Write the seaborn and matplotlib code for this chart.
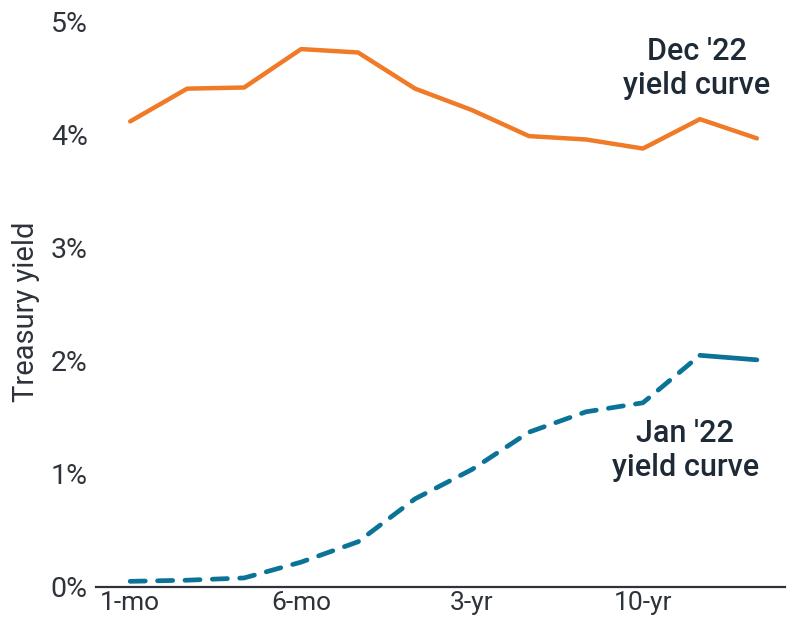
import seaborn as sns
import matplotlib.pyplot as plt
import pandas as pd

sns.set_style("white")
plt.rcParams['font.family'] = ['Roboto', 'DejaVu Sans']

maturities = ['1-mo', '2-mo', '3-mo', '6-mo', '1-yr', '2-yr',
              '3-yr', '5-yr', '7-yr', '10-yr', '20-yr', '30-yr']
dec22 = [4.12, 4.41, 4.42, 4.76, 4.73, 4.41, 4.22, 3.99, 3.96, 3.88, 4.14, 3.97]
jan22 = [0.05, 0.06, 0.08, 0.22, 0.40, 0.78, 1.04, 1.37, 1.55, 1.63, 2.05, 2.01]
shown_ticks = ['1-mo', '6-mo', '3-yr', '10-yr']

ORANGE = '#F07A26'
BLUE = '#0B7398'
TEXT = '#1F2A37'
AXIS = '#2E333B'

df = pd.DataFrame({'pos': range(len(maturities)), 'maturity': maturities,
                   'dec': dec22, 'jan': jan22})

fig = plt.figure(figsize=(8, 6.33), dpi=100)
ax = fig.add_axes([0.12, 0.0727, 0.861, 0.8926])

sns.lineplot(data=df, x='pos', y='dec', color=ORANGE, linewidth=3.2, ax=ax)
# Jan curve: dashed up to 20-yr, solid for the last stretch
sns.lineplot(data=df.iloc[:-1], x='pos', y='jan', color=BLUE, linewidth=3.4,
             ax=ax, linestyle=(0, (3.2, 2.6)), dash_capstyle='round')
sns.lineplot(data=df.iloc[-2:], x='pos', y='jan', color=BLUE, linewidth=3.4,
             ax=ax, solid_capstyle='round')

ax.set_xlim(-0.6, 11.49)
ax.set_ylim(0, 5)
ax.set_yticks([0, 1, 2, 3, 4, 5])
ax.set_yticklabels([f'{v}%' for v in range(6)])
ax.set_xticks([maturities.index(t) for t in shown_ticks])
ax.set_xticklabels(shown_ticks)
ax.tick_params(axis='both', length=0, labelcolor=AXIS)
ax.tick_params(axis='y', labelsize=20.5, pad=6)
ax.tick_params(axis='x', labelsize=19, pad=3)

sns.despine(ax=ax, left=True)
ax.spines['bottom'].set_color(AXIS)
ax.spines['bottom'].set_linewidth(1.6)

ax.set_xlabel('')
ax.set_ylabel('Treasury yield', fontsize=21, color=AXIS)
ax.yaxis.set_label_coords(-0.082, 0.487)

ax.text(9.95, 4.59, "Dec '22\nyield curve", ha='center', va='center',
        fontsize=22, fontweight='medium', color=TEXT, linespacing=1.2)
ax.text(9.74, 1.21, "Jan '22\nyield curve", ha='center', va='center',
        fontsize=22, fontweight='medium', color=TEXT, linespacing=1.2)

fig.savefig('out.png', dpi=100)
